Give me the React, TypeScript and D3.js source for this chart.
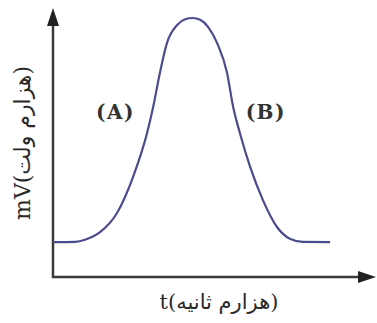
import React from "react";
import * as d3 from "d3";

// time (arbitrary units along the axis) and membrane potential
const timeValues = [0, 7, 10, 14.7, 20, 25, 29.4, 31.3, 33.4, 35.6, 38.8, 41.5, 43.6, 46, 48.5, 51.3, 54.4, 56.3, 58.4, 61.6, 65.6, 70, 74, 78, 86.6];
const voltValues = [13.5, 13.6, 14.4, 17.3, 24.7, 38.6, 55.6, 65.6, 78.8, 90.3, 97.3, 99.6, 100, 99.3, 96.5, 90.3, 78.8, 65.6, 55.6, 42.5, 29.7, 19.3, 14.8, 13.6, 13.5];

const phaseLabels = ["(A)", "(B)"];
const phasePos = [
  { t: 19.5, v: 63 },
  { t: 66.5, v: 63 },
];
const xTitle = "t(هزارم ثانیه)";
const yTitle = "mV(هزارم ولت)";

const W = 377;
const H = 323;

export default function App() {
  const x = d3.scaleLinear().domain([0, 100]).range([53, 373]);
  const y = d3.scaleLinear().domain([0, 100]).range([277, 18]);

  const pts = timeValues.map((t, i) => [t, voltValues[i]] as [number, number]);
  const line = d3
    .line<[number, number]>()
    .x((d) => x(d[0]))
    .y((d) => y(d[1]))
    .curve(d3.curveMonotoneX);

  const x0 = x(0);
  const y0 = y(0);
  const axisColor = "#3a3a3a";

  return (
    <svg
      width={W}
      height={H}
      style={{ position: "absolute", left: 0, top: 0, background: "#fff" }}
    >
      {/* y axis with arrow */}
      <line x1={x0} y1={y0 + 1} x2={x0} y2={22} stroke={axisColor} strokeWidth={2.5} />
      <path d={`M${x0},8 L${x0 - 6},26 L${x0 + 6},26 Z`} fill="#222" />
      {/* x axis with arrow */}
      <line x1={x0 - 1} y1={y0} x2={362} y2={y0} stroke={axisColor} strokeWidth={2.5} />
      <path d={`M376,${y0} L358,${y0 - 6} L358,${y0 + 6} Z`} fill="#222" />

      <path d={line(pts) || ""} fill="none" stroke="#4b4b8e" strokeWidth={2.2} />

      {phaseLabels.map((lab, i) => (
        <text
          key={lab}
          x={x(phasePos[i].t)}
          y={y(phasePos[i].v)}
          textAnchor="middle"
          dominantBaseline="middle"
          fontFamily="DejaVu Serif"
          fontWeight="bold"
          fontSize={20}
          letterSpacing={1.5}
          fill="#333"
        >
          {lab}
        </text>
      ))}

      <text
        x={219}
        y={309}
        textAnchor="middle"
        fontFamily="DejaVu Serif, DejaVu Sans"
        fontSize={21}
        fill="#2a2a2a"
      >
        {xTitle}
      </text>
      <text
        transform="translate(30,143) rotate(-90)"
        textAnchor="middle"
        fontFamily="DejaVu Serif, DejaVu Sans"
        fontSize={22}
        fill="#2a2a2a"
      >
        {yTitle}
      </text>
    </svg>
  );
}
